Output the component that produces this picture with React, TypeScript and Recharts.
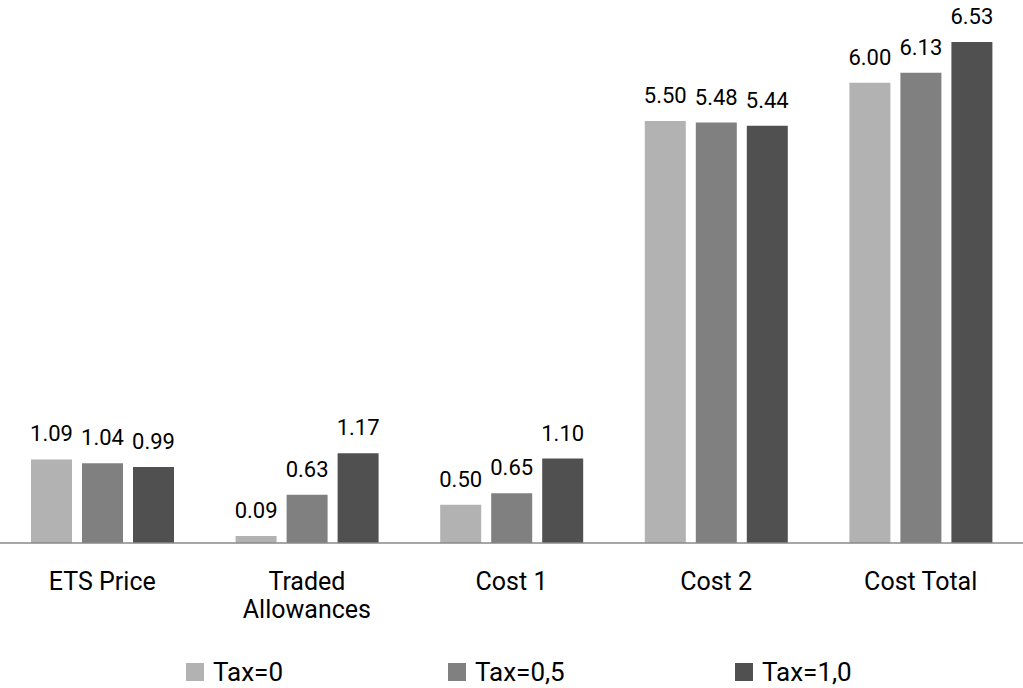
import React from 'react';
import { BarChart, Bar, XAxis, YAxis, Legend, LabelList } from 'recharts';

const categories = ['ETS Price', 'Traded Allowances', 'Cost 1', 'Cost 2', 'Cost Total'];
const tax0 = [1.09, 0.09, 0.5, 5.5, 6.0];
const tax05 = [1.04, 0.63, 0.65, 5.48, 6.13];
const tax10 = [0.99, 1.17, 1.1, 5.44, 6.53];

const seriesNames = ['Tax=0', 'Tax=0,5', 'Tax=1,0'];
const seriesColors = ['#b2b2b2', '#808080', '#505050'];

const data = categories.map((name, i) => ({
  name,
  tax0: tax0[i],
  tax05: tax05[i],
  tax10: tax10[i],
}));

const FONT = 'Roboto, sans-serif';

// long category names wrap onto two lines like the original
function CategoryTick({ x, y, payload }: any) {
  const label: string = payload.value;
  const lines = label.length > 12 ? label.split(' ') : [label];
  return (
    <text x={x} y={y} textAnchor="middle" fill="#000" style={{ fontSize: 25, fontFamily: FONT }}>
      {lines.map((ln, i) => (
        <tspan key={i} x={x} dy={i === 0 ? 47 : 28}>
          {ln}
        </tspan>
      ))}
    </text>
  );
}

// legend slots
const slotWidths = [262, 287, 200];

function LegendContent() {
  return (
    <div style={{ display: 'flex', alignItems: 'center', height: 26, paddingLeft: 186, fontFamily: FONT }}>
      {seriesNames.map((s, i) => (
        <div key={s} style={{ display: 'flex', alignItems: 'center', width: slotWidths[i] }}>
          <span style={{ width: 18, height: 18, background: seriesColors[i], marginRight: 9, display: 'inline-block' }} />
          <span style={{ fontSize: 26, lineHeight: 1, color: '#000' }}>{s}</span>
        </div>
      ))}
    </div>
  );
}

const fmt = (v: number) => v.toFixed(2);
const labelStyle = { fontSize: 22, fontFamily: FONT, fill: '#000' };

export default function App() {
  return (
    <div style={{ position: 'absolute', left: 0, top: 0, width: 1023, height: 688, background: '#fff', fontFamily: FONT }}>
      <BarChart
        width={1023}
        height={688}
        data={data}
        margin={{ top: 6, right: 0, bottom: 0, left: 0 }}
        barCategoryGap="15%"
        barGap={10}
      >
        <XAxis
          dataKey="name"
          height={145}
          axisLine={{ stroke: '#898989', strokeWidth: 1.5 }}
          tickLine={false}
          tickSize={0}
          tickMargin={0}
          interval={0}
          tick={(props: any) => <CategoryTick x={props.x} y={543} payload={props.payload} />}
        />
        <YAxis hide domain={[0, 7]} />
        <Legend
          layout="horizontal"
          verticalAlign="middle"
          align="center"
          content={<LegendContent />}
          wrapperStyle={{ top: 659, left: 0, width: 1023, height: 26 }}
        />
        <Bar dataKey="tax0" name={seriesNames[0]} fill={seriesColors[0]} barSize={41} isAnimationActive={false}>
          <LabelList dataKey="tax0" position="top" offset={18} formatter={fmt} style={labelStyle} />
        </Bar>
        <Bar dataKey="tax05" name={seriesNames[1]} fill={seriesColors[1]} barSize={41} isAnimationActive={false}>
          <LabelList dataKey="tax05" position="top" offset={18} formatter={fmt} style={labelStyle} />
        </Bar>
        <Bar dataKey="tax10" name={seriesNames[2]} fill={seriesColors[2]} barSize={41} isAnimationActive={false}>
          <LabelList dataKey="tax10" position="top" offset={18} formatter={fmt} style={labelStyle} />
        </Bar>
      </BarChart>
    </div>
  );
}
